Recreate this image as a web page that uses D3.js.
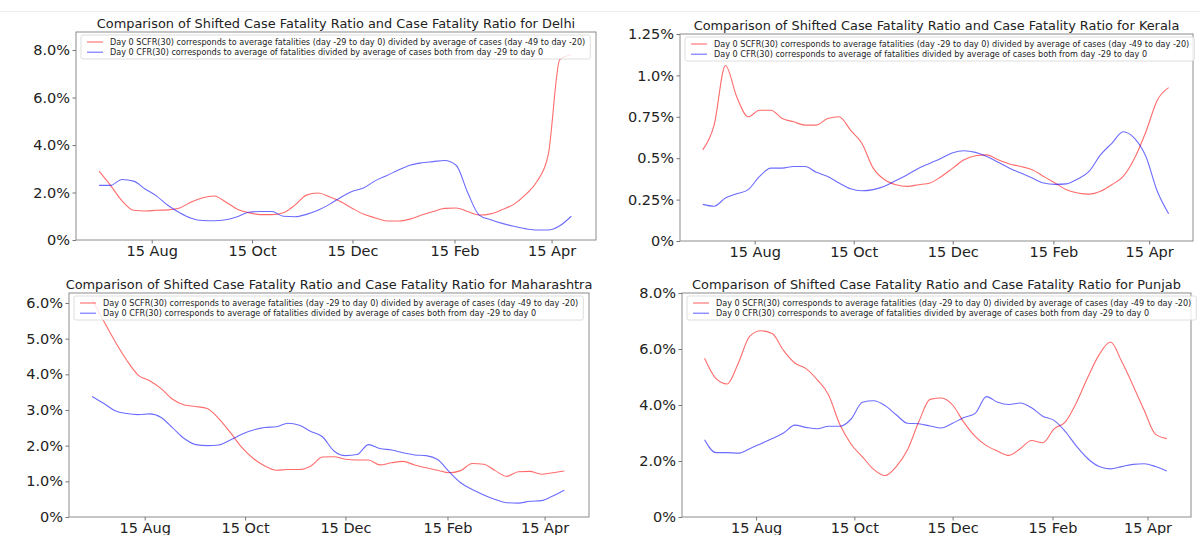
<!DOCTYPE html>
<html>
<head>
<meta charset="utf-8">
<script src="https://cdn.jsdelivr.net/npm/d3@7"></script>
<style>
  body { margin: 0; background: #fff; }
  svg { display: block; font-family: "DejaVu Sans", sans-serif; }
</style>
</head>
<body>
<svg id="chart" width="1200" height="535"></svg>
<script>
// weekly sample dates (day 0 of each window)
const dates = [
  '2020-07-14','2020-07-21','2020-07-28','2020-08-04','2020-08-11','2020-08-18','2020-08-25',
  '2020-09-01','2020-09-08','2020-09-15','2020-09-22','2020-09-29','2020-10-06','2020-10-13',
  '2020-10-20','2020-10-27','2020-11-03','2020-11-10','2020-11-17','2020-11-24','2020-12-01',
  '2020-12-08','2020-12-15','2020-12-22','2020-12-29','2021-01-05','2021-01-12','2021-01-19',
  '2021-01-26','2021-02-02','2021-02-09','2021-02-16','2021-02-23','2021-03-02','2021-03-09',
  '2021-03-16','2021-03-23','2021-03-30','2021-04-06','2021-04-13','2021-04-20','2021-04-27'
];
const xExtent = ['2020-06-30', '2021-05-12'];
const tickDates = ['2020-08-15', '2020-10-15', '2020-12-15', '2021-02-15', '2021-04-15'];
const tickLabels = ['15 Aug', '15 Oct', '15 Dec', '15 Feb', '15 Apr'];

// values in percent
const delhiScfr = [2.9, 2.3, 1.65, 1.25, 1.22, 1.25, 1.27, 1.35, 1.6, 1.78, 1.85, 1.6, 1.3, 1.15,
  1.07, 1.07, 1.15, 1.47, 1.89, 1.98, 1.82, 1.61, 1.33, 1.08, 0.93, 0.8, 0.8, 0.88, 1.05, 1.2,
  1.33, 1.35, 1.2, 1.05, 1.1, 1.28, 1.5, 1.9, 2.45, 3.6, 7.6, 7.8];
const delhiCfr = [2.3, 2.3, 2.55, 2.48, 2.15, 1.85, 1.45, 1.15, 0.92, 0.82, 0.81, 0.85, 0.98, 1.17,
  1.2, 1.2, 1.0, 0.98, 1.08, 1.25, 1.5, 1.8, 2.05, 2.2, 2.5, 2.72, 2.95, 3.15, 3.25, 3.3,
  3.35, 3.15, 2.0, 1.05, 0.85, 0.7, 0.58, 0.48, 0.42, 0.42, 0.6, 1.0];

const keralaScfr = [0.55, 0.70, 1.06, 0.87, 0.75, 0.79, 0.79, 0.74, 0.72, 0.70, 0.70, 0.74, 0.75, 0.67,
  0.59, 0.44, 0.37, 0.34, 0.33, 0.34, 0.35, 0.39, 0.44, 0.49, 0.515, 0.52, 0.49, 0.465, 0.45, 0.43,
  0.39, 0.35, 0.31, 0.29, 0.283, 0.30, 0.34, 0.39, 0.50, 0.66, 0.85, 0.926];
const keralaCfr = [0.221, 0.21, 0.26, 0.285, 0.31, 0.39, 0.44, 0.44, 0.45, 0.45, 0.415, 0.39, 0.35, 0.315,
  0.303, 0.31, 0.33, 0.365, 0.40, 0.44, 0.47, 0.50, 0.533, 0.545, 0.535, 0.51, 0.475, 0.44, 0.41, 0.38,
  0.35, 0.342, 0.345, 0.375, 0.42, 0.52, 0.59, 0.66, 0.62, 0.51, 0.30, 0.165];

const mahaScfr = [6.1, 5.5, 4.92, 4.4, 3.98, 3.82, 3.6, 3.3, 3.14, 3.1, 3.04, 2.76, 2.37, 1.95,
  1.64, 1.43, 1.31, 1.33, 1.33, 1.43, 1.68, 1.69, 1.62, 1.6, 1.6, 1.46, 1.52, 1.56, 1.46, 1.38,
  1.31, 1.24, 1.3, 1.5, 1.48, 1.3, 1.14, 1.27, 1.28, 1.2, 1.24, 1.29];
const mahaCfr = [3.38, 3.19, 2.98, 2.9, 2.87, 2.89, 2.79, 2.5, 2.2, 2.03, 2.0, 2.02, 2.16, 2.32,
  2.44, 2.51, 2.53, 2.63, 2.57, 2.4, 2.25, 1.85, 1.72, 1.75, 2.03, 1.92, 1.88, 1.8, 1.74, 1.72,
  1.61, 1.27, 0.96, 0.77, 0.62, 0.49, 0.4, 0.39, 0.44, 0.46, 0.59, 0.75];

const punjabScfr = [5.67, 4.95, 4.75, 5.5, 6.45, 6.65, 6.55, 5.95, 5.5, 5.3, 4.9, 4.36, 3.3, 2.6,
  2.15, 1.7, 1.48, 1.8, 2.4, 3.4, 4.2, 4.25, 4.0, 3.38, 2.88, 2.55, 2.35, 2.2, 2.44, 2.73,
  2.65, 3.15, 3.4, 4.1, 5.0, 5.8, 6.25, 5.55, 4.7, 3.8, 2.95, 2.8];
const punjabCfr = [2.76, 2.3, 2.3, 2.28, 2.44, 2.62, 2.8, 3.0, 3.28, 3.2, 3.15, 3.24, 3.24, 3.5,
  4.1, 4.15, 3.98, 3.65, 3.35, 3.33, 3.25, 3.18, 3.35, 3.55, 3.7, 4.3, 4.1, 4.02, 4.07, 3.9,
  3.6, 3.45, 3.05, 2.52, 2.08, 1.8, 1.72, 1.8, 1.88, 1.9, 1.8, 1.64];

// y tick values and labels
const ticks8 = [0, 2, 4, 6, 8];
const labels8 = ['0%', '2.0%', '4.0%', '6.0%', '8.0%'];
const ticksKerala = [0, 0.25, 0.5, 0.75, 1.0, 1.25];
const labelsKerala = ['0%', '0.25%', '0.5%', '0.75%', '1.0%', '1.25%'];
const ticksMaha = [0, 1, 2, 3, 4, 5, 6];
const labelsMaha = ['0%', '1.0%', '2.0%', '3.0%', '4.0%', '5.0%', '6.0%'];

const legendLabels = [
  'Day 0 SCFR(30) corresponds to average fatalities (day -29 to day 0) divided by average of cases (day -49 to day -20)',
  'Day 0 CFR(30) corresponds to average of fatalities divided by average of cases both from day -29 to day 0'
];
const titlePrefix = 'Comparison of Shifted Case Fatality Ratio and Case Fatality Ratio for ';

const parse = d3.timeParse('%Y-%m-%d');

// layout of the four panels
const panels = [
  { state: 'Delhi', scfr: delhiScfr, cfr: delhiCfr, yMax: 8.76, ticks: ticks8, labels: labels8,
    left: 76, right: 596, top: 32, bottom: 240, qx: 0, qy: 0 },
  { state: 'Kerala', scfr: keralaScfr, cfr: keralaCfr, yMax: 1.25, ticks: ticksKerala, labels: labelsKerala,
    left: 680, right: 1193, top: 34, bottom: 241, qx: 600, qy: 0 },
  { state: 'Maharashtra', scfr: mahaScfr, cfr: mahaCfr, yMax: 6.28, ticks: ticksMaha, labels: labelsMaha,
    left: 69, right: 589, top: 293, bottom: 517, qx: 0, qy: 267 },
  { state: 'Punjab', scfr: punjabScfr, cfr: punjabCfr, yMax: 8.0, ticks: ticks8, labels: labels8,
    left: 682, right: 1191, top: 293, bottom: 517, qx: 600, qy: 267 }
];

const svg = d3.select('#chart');

// faint line at the very top of the screenshot
svg.append('line')
  .attr('x1', 0).attr('x2', 1200).attr('y1', 11.5).attr('y2', 11.5)
  .attr('stroke', '#ececec').attr('stroke-width', 1);

panels.forEach((p, i) => drawPanel(p, i));

function drawPanel(p, i) {
  // each panel was a separate image, so crop to its quarter
  const clipId = 'quad' + i;
  svg.append('clipPath').attr('id', clipId)
    .append('rect')
    .attr('x', p.qx).attr('y', p.qy).attr('width', 598).attr('height', 268);

  const g = svg.append('g').attr('clip-path', `url(#${clipId})`);

  const xScale = d3.scaleTime()
    .domain(xExtent.map(parse))
    .range([p.left, p.right]);
  const yScale = d3.scaleLinear()
    .domain([0, p.yMax])
    .range([p.bottom, p.top]);

  // frame
  g.append('rect')
    .attr('x', p.left).attr('y', p.top)
    .attr('width', p.right - p.left).attr('height', p.bottom - p.top)
    .attr('fill', 'none').attr('stroke', '#8c8c8c').attr('stroke-width', 1);

  // x axis
  const xAxis = d3.axisBottom(xScale)
    .tickValues(tickDates.map(parse))
    .tickFormat((d, k) => tickLabels[k])
    .tickSize(3.5)
    .tickPadding(2.5);
  const gx = g.append('g')
    .attr('transform', `translate(0,${p.bottom})`)
    .call(xAxis);

  // y axis
  const yAxis = d3.axisLeft(yScale)
    .tickValues(p.ticks)
    .tickFormat((d, k) => p.labels[k])
    .tickSize(3.5)
    .tickPadding(2.5);
  const gy = g.append('g')
    .attr('transform', `translate(${p.left},0)`)
    .call(yAxis);

  [gx, gy].forEach(ax => {
    ax.select('.domain').remove();
    ax.selectAll('line').attr('stroke', '#777');
    ax.selectAll('text')
      .attr('fill', '#222')
      .style('font-size', '14.5px')
      .style('font-family', '"DejaVu Sans", sans-serif');
  });

  // the two series
  const lineFun = series => d3.line()
    .x((d, k) => xScale(parse(dates[k])))
    .y(d => yScale(d))
    .curve(d3.curveMonotoneX)(series);

  g.append('path')
    .attr('d', lineFun(p.scfr))
    .attr('fill', 'none')
    .attr('stroke', '#ff0000')
    .attr('stroke-opacity', 0.58)
    .attr('stroke-width', 1.1);

  g.append('path')
    .attr('d', lineFun(p.cfr))
    .attr('fill', 'none')
    .attr('stroke', '#0000ff')
    .attr('stroke-opacity', 0.58)
    .attr('stroke-width', 1.1);

  // title
  g.append('text')
    .attr('x', (p.left + p.right) / 2)
    .attr('y', p.top - 4)
    .attr('text-anchor', 'middle')
    .attr('fill', '#222')
    .style('font-size', '12.9px')
    .text(titlePrefix + p.state);

  // legend
  const lg = g.append('g');
  const boxX = p.left + 5;
  const boxY = p.top + 3;
  const box = lg.append('rect')
    .attr('x', boxX).attr('y', boxY)
    .attr('rx', 2).attr('ry', 2)
    .attr('height', 24)
    .attr('fill', '#fff').attr('fill-opacity', 0.8)
    .attr('stroke', '#d6d6d6').attr('stroke-width', 0.8);

  const colours = ['#ff0000', '#0000ff'];
  let maxW = 0;
  legendLabels.forEach((lab, k) => {
    const cy = boxY + 7 + k * 10.2;
    lg.append('line')
      .attr('x1', boxX + 6).attr('x2', boxX + 22)
      .attr('y1', cy).attr('y2', cy)
      .attr('stroke', colours[k]).attr('stroke-opacity', 0.58).attr('stroke-width', 1.1);
    const t = lg.append('text')
      .attr('x', boxX + 29).attr('y', cy)
      .attr('dy', '0.35em')
      .attr('fill', '#222')
      .style('font-size', '8.1px')
      .text(lab);
    maxW = Math.max(maxW, t.node().getComputedTextLength());
  });
  box.attr('width', 29 + maxW + 5);
}
</script>
</body>
</html>
